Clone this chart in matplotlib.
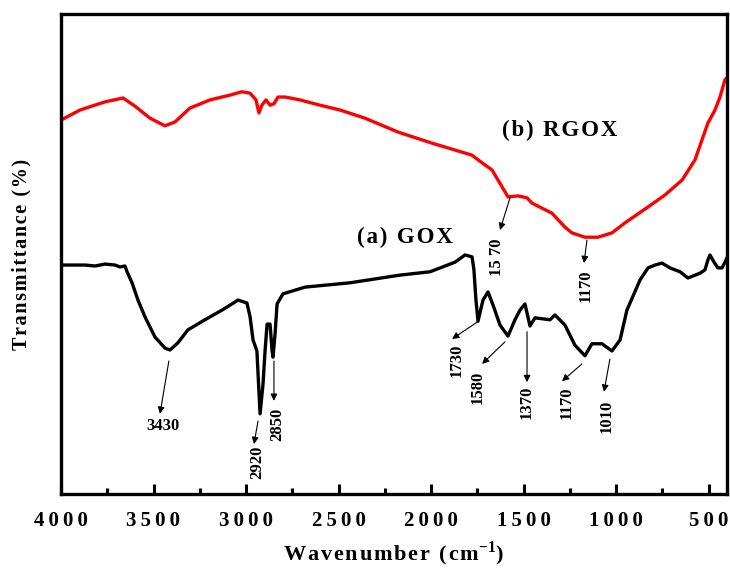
import numpy as np
import matplotlib.pyplot as plt
from matplotlib.ticker import MultipleLocator, FuncFormatter

plt.rcParams['font.family'] = ['Liberation Serif', 'DejaVu Serif']
plt.rcParams['font.weight'] = 'bold'
plt.rcParams['mathtext.fontset'] = 'custom'
plt.rcParams['mathtext.bf'] = 'Liberation Serif:bold'
plt.rcParams['mathtext.rm'] = 'Liberation Serif:bold'

# (b) RGOX spectrum
wn_rgox = [4000, 3897, 3762, 3665, 3600, 3519, 3438, 3384, 3303, 3195, 3087, 3022,
           2978, 2946, 2930, 2914, 2892, 2870, 2849, 2827, 2789, 2708, 2600, 2492,
           2357, 2178, 1995, 1779, 1724, 1670, 1616, 1584, 1530, 1481, 1454, 1346,
           1276, 1238, 1168, 1097, 1022, 951, 827, 735, 643, 573, 535, 503, 465,
           438, 411, 400]
t_rgox = [77.9, 80.0, 81.7, 82.5, 80.8, 78.3, 76.7, 77.5, 80.4, 82.1, 83.1, 83.8,
          83.5, 82.1, 79.4, 81.0, 82.1, 81.0, 81.3, 82.7, 82.7, 82.1, 81.0, 80.0,
          78.3, 75.4, 73.1, 70.6, 69.0, 67.5, 64.0, 61.9, 62.1, 61.7, 60.6, 58.5,
          55.6, 54.4, 53.5, 53.5, 54.4, 56.5, 59.8, 62.3, 65.4, 69.6, 73.8, 77.3,
          80.0, 82.7, 86.3, 86.7]

# (a) GOX spectrum
wn_gox = [3995, 3870, 3816, 3762, 3708, 3681, 3654, 3643, 3616, 3584, 3546, 3492,
          3438, 3411, 3368, 3314, 3222, 3130, 3043, 2995, 2978, 2962, 2941, 2924,
          2908, 2897, 2886, 2870, 2859, 2854, 2843, 2832, 2800, 2681, 2438, 2168,
          2005, 1951, 1870, 1816, 1778, 1768, 1757, 1746, 1719, 1692, 1665, 1627,
          1584, 1546, 1519, 1492, 1465, 1438, 1357, 1330, 1276, 1222, 1168, 1130,
          1076, 1022, 978, 941, 870, 827, 789, 751, 708, 654, 611, 546, 519, 503,
          492, 470, 449, 427, 411, 400]
t_gox = [47.7, 47.7, 47.5, 47.9, 47.7, 47.3, 47.5, 46.3, 44.0, 40.4, 36.9, 32.7,
         30.4, 30.0, 31.5, 34.2, 36.3, 38.3, 40.4, 39.8, 36.9, 32.1, 29.8, 16.7,
         22.9, 29.8, 35.4, 35.4, 29.8, 28.5, 33.3, 39.6, 41.7, 43.1, 44.0, 45.6,
         46.3, 47.1, 48.3, 49.8, 49.4, 46.7, 40.4, 36.0, 40.4, 42.1, 39.4, 35.2,
         32.9, 36.3, 38.3, 39.6, 35.0, 36.7, 36.3, 37.3, 35.2, 31.0, 28.8, 31.3,
         31.3, 29.8, 32.1, 38.3, 44.6, 47.1, 47.7, 48.1, 47.1, 46.3, 45.0, 46.0,
         46.7, 48.8, 49.8, 48.3, 47.1, 47.1, 48.3, 49.2]

# peak labels: (text, arrow start, arrow end, text position, rotation)
gox_peaks = [
    ('3430', (3417, 27.7), (3465, 16.7), (3449, 14.2), 0),
    ('2920', (2935, 15.2), (2957, 10.4), (2941, 6.7), 90),
    ('2850', (2849, 27.7), (2849, 19.4), (2832, 14.6), 90),
    ('1730', (1751, 35.8), (1886, 32.3), (1859, 27.9), 90),
    ('1580', (1600, 31.7), (1724, 27.1), (1746, 22.3), 90),
    ('1370', (1481, 33.8), (1481, 23.3), (1481, 19.0), 90),
    ('1170', (1184, 27.1), (1292, 23.5), (1265, 19.0), 90),
    ('1010', (1033, 28.1), (1065, 21.3), (1049, 16.1), 90),
]
rgox_peaks = [
    ('15 70', (1573, 61.7), (1627, 55.0), (1643, 49.4), 90),
    ('1170', (1157, 52.9), (1173, 48.1), (1162, 43.3), 90),
]


def spaced(s, sep='\u200a'):
    return sep.join(s)


fig = plt.figure(figsize=(7.3, 5.68), dpi=100)
ax = fig.add_axes([61 / 730, 1 - 494 / 568, 666 / 730, 480 / 568])

ax.plot(wn_gox, t_gox, color='black', lw=2.4)
ax.plot(wn_rgox, t_rgox, color='red', lw=2.4)

for txt, p0, p1, pt, rot in gox_peaks + rgox_peaks:
    ax.annotate('', xy=p1, xytext=p0,
                arrowprops=dict(arrowstyle='-|>', color='black', lw=0.8,
                                mutation_scale=10, shrinkA=0, shrinkB=0))
    ax.text(pt[0], pt[1], txt, rotation=rot, ha='center', va='center',
            fontsize=12, fontweight='bold')

ax.text(2141, 53.5, spaced('(a) GOX'), fontsize=16.5, fontweight='bold',
        ha='center', va='center')
ax.text(1303, 75.8, spaced('(b) RGOX'), fontsize=16.5, fontweight='bold',
        ha='center', va='center')

ax.set_xlim(4000, 400)
ax.set_ylim(0, 100)
ax.xaxis.set_major_locator(MultipleLocator(500))
ax.xaxis.set_minor_locator(MultipleLocator(250))
ax.xaxis.set_major_formatter(FuncFormatter(lambda v, p: spaced(str(int(v)), '\u2009')))
ax.tick_params(axis='x', which='major', direction='in', length=7, width=2.2,
               labelsize=15, pad=12, top=False)
ax.tick_params(axis='x', which='minor', direction='in', length=4, width=2.2, top=False)
ax.tick_params(axis='y', left=False, labelleft=False)
for lbl in ax.get_xticklabels():
    lbl.set_fontweight('bold')
for sp in ax.spines.values():
    sp.set_linewidth(2.4)

ax.set_xlabel(spaced('Wavenumber (cm') + '$^{\\mathbf{-1}}$)', fontsize=16,
              fontweight='bold', labelpad=6)
ax.set_ylabel(spaced('Transmittance (%)'), fontsize=14.5, fontweight='bold',
              labelpad=21)

fig.savefig('out.png', dpi=100)
